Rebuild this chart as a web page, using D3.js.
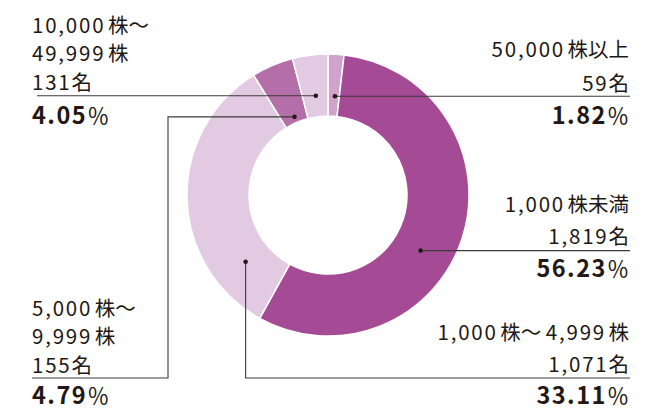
<!DOCTYPE html>
<html>
<head>
<meta charset="utf-8">
<script src="https://cdn.jsdelivr.net/npm/d3@7"></script>
<style>
body { margin: 0; background: #fff; }
text { font-family: "Noto Sans CJK JP", "Noto Sans", sans-serif; fill: #231815; }
</style>
</head>
<body>
<svg id="chart" width="659" height="409"></svg>
<script>
// Shareholders by number of shares held (clockwise from 12 o'clock)
var categories = [["50,000株以上"], ["1,000株未満"], ["1,000株～ 4,999株"], ["5,000株～", "9,999株"], ["10,000株～", "49,999株"]];
var holders = ["59名", "1,819名", "1,071名", "155名", "131名"];
var percents = [1.82, 56.23, 33.11, 4.79, 4.05];
var colors = ["#cfa3cc", "#a54a95", "#e3cae3", "#b46fa9", "#e3cae3"];

// label layout: dot angle (deg) / radius, leader route, text block
var layout = [
	{ ang: 4,     rad: 99,  route: [[630, null]],                      x: 629, anchor: "end",   lines: [57, 91],        pct: 124 },
	{ ang: 121,   rad: 108, route: [[630, null]],                      x: 629, anchor: "end",   lines: [212, 244],      pct: 277 },
	{ ang: 231,   rad: 106, route: [[null, 378], [630, 378]],          x: 629, anchor: "end",   lines: [340, 372],      pct: 404 },
	{ ang: 336.8, rad: 85,  route: [[168, null], [168, 378], [32, 378]], x: 32, anchor: "start", lines: [316, 344, 373], pct: 404 },
	{ ang: 353,   rad: 100, route: [[37, null]],                       x: 32,  anchor: "start", lines: [33, 61, 90],    pct: 124 }
];

var cx = 328, cy = 195, rOuter = 141, rInner = 79;

var svg = d3.select("#chart");
var g = svg.append("g").attr("transform", "translate(" + cx + "," + cy + ")");

var pie = d3.pie().sort(null).value(function(d) { return d; });
var arc = d3.arc().innerRadius(rInner).outerRadius(rOuter);
var arcs = pie(percents);

g.selectAll("path.slice")
	.data(arcs)
	.enter().append("path")
	.attr("class", "slice")
	.attr("d", arc)
	.attr("fill", function(d, i) { return colors[i]; })
	.attr("stroke", "#fff")
	.attr("stroke-width", 1.5);

// split a label into digit runs (spaced wider) and the rest
function addRuns(sel, str, spacing) {
	var runs = str.match(/[0-9.,]+|[^0-9.,]+/g);
	runs.forEach(function(r, k) {
		var isNum = /[0-9]/.test(r);
		var t = sel.append("tspan").text(r);
		if (isNum) t.attr("letter-spacing", spacing);
		else if (k > 0 && r.charAt(0) !== "名") t.attr("dx", 2.5);
	});
}

// leaders and labels
layout.forEach(function(l, i) {
	var a = l.ang * Math.PI / 180;
	var dx = cx + l.rad * Math.sin(a), dy = cy - l.rad * Math.cos(a);
	var pts = [[dx, dy]];
	l.route.forEach(function(p) {
		pts.push([p[0] === null ? dx : p[0], p[1] === null ? dy : p[1]]);
	});
	svg.append("path")
		.attr("d", d3.line()(pts))
		.attr("fill", "none")
		.attr("stroke", "#3e3a39")
		.attr("stroke-width", 1.1);
	svg.append("circle")
		.attr("cx", dx).attr("cy", dy).attr("r", 2.3)
		.attr("fill", "#231815");

	var rows = categories[i].concat([holders[i]]);
	rows.forEach(function(t, j) {
		var txt = svg.append("text")
			.attr("x", l.x).attr("y", l.lines[j])
			.attr("text-anchor", l.anchor)
			.attr("font-size", 20.5);
		addRuns(txt, t, 1.8);
	});
	var p = svg.append("text")
		.attr("x", l.x).attr("y", l.pct)
		.attr("text-anchor", l.anchor)
		.attr("font-size", 23.5);
	p.append("tspan").attr("font-weight", "bold").attr("letter-spacing", 1.5)
		.text(d3.format(".2f")(percents[i]));
	p.append("tspan").attr("font-size", 22).text("％");
});
</script>
</body>
</html>
